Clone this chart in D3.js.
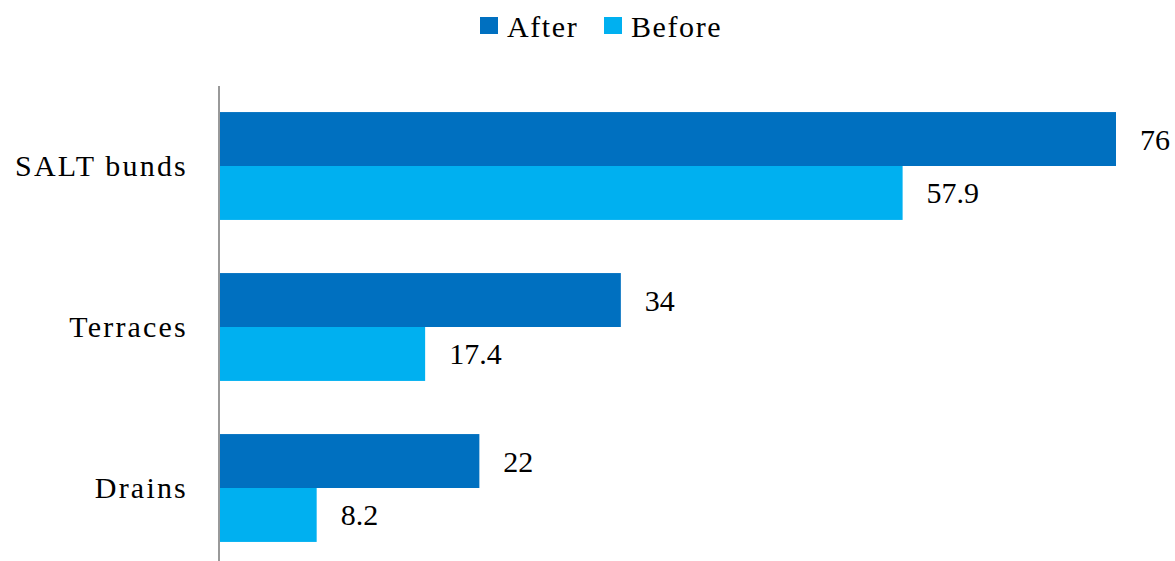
<!DOCTYPE html>
<html><head><meta charset="utf-8">
<script src="https://cdn.jsdelivr.net/npm/d3@7"></script>
<style>body{margin:0;background:#fff}svg{display:block}text{font-family:"Liberation Serif","Times New Roman",serif;fill:#000}</style>
</head><body>
<script>
const categories = ["SALT bunds", "Terraces", "Drains"];
const seriesNames = ["After", "Before"];
const afterValues = [76, 34, 22];
const beforeValues = [57.9, 17.4, 8.2];
const colors = ["#0070C0", "#00B0F0"];

const W = 1175, H = 561;
const svg = d3.select("body").append("svg").attr("width", W).attr("height", H);

const x0 = 220;
const x = d3.scaleLinear().domain([0, 76]).range([x0, 1116]);
const y = d3.scaleBand().domain(categories).range([85.5, 568.5]).paddingInner(0.33).paddingOuter(0.165);
const ys = d3.scaleBand().domain(seriesNames).range([0, y.bandwidth()]);

const data = categories.map((c, i) => ({cat: c, vals: [afterValues[i], beforeValues[i]]}));

const g = svg.append("g");
data.forEach(d => {
  d.vals.forEach((v, j) => {
    const yy = y(d.cat) + ys(seriesNames[j]);
    g.append("rect").attr("x", x(0)).attr("y", yy).attr("width", x(v) - x(0)).attr("height", ys.bandwidth()).attr("fill", colors[j]);
    g.append("text").attr("x", x(v) + 24).attr("y", yy + ys.bandwidth() / 2).attr("dy", "0.35em")
      .attr("font-size", 30).text(v);
  });
});

// category axis
const axis = d3.axisLeft(y).tickSize(0).tickPadding(31);
const ax = svg.append("g").attr("transform", `translate(${x0 - 1},0)`).call(axis);
ax.select(".domain").attr("stroke", "#999").attr("stroke-width", 2).attr("d", `M0,86V561`);
ax.selectAll("text").attr("font-size", 30).attr("font-family", "Liberation Serif").attr("fill", "#000")
  .attr("letter-spacing", "2.2px");

// legend
const leg = svg.append("g");
const legItems = [{name: "After", x: 480}, {name: "Before", x: 604}];
legItems.forEach((it, i) => {
  leg.append("rect").attr("x", it.x).attr("y", 17).attr("width", 18).attr("height", 17).attr("fill", colors[i]);
  leg.append("text").attr("x", it.x + 27).attr("y", 26).attr("dy", "0.35em").attr("font-size", 30)
    .attr("letter-spacing", "1.6px").text(it.name);
});
</script>
</body></html>
